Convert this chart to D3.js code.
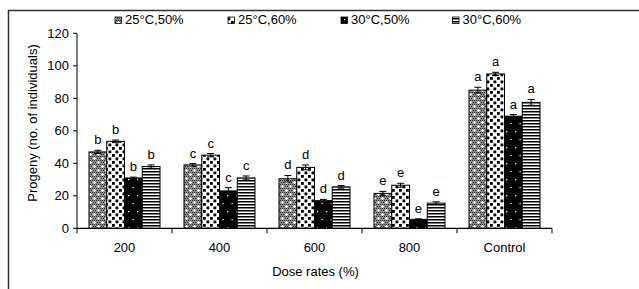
<!DOCTYPE html>
<html><head><meta charset="utf-8">
<script src="https://cdn.jsdelivr.net/npm/d3@7"></script>
<style>body{margin:0;background:#fff}svg{display:block;font-family:"Liberation Sans",Arial,sans-serif}</style>
</head><body>
<script>
const categories = ["200","400","600","800","Control"];
const seriesNames = ["25°C,50%","25°C,60%","30°C,50%","30°C,60%"];
const s25_50 = [47,39,30.5,21.5,85];
const s25_60 = [53.5,45,37.5,26.5,95];
const s30_50 = [31,23,17,5.5,69];
const s30_60 = [38,31,25.5,15.5,77.5];
const e25_50 = [1,0.8,2,1.2,1.8];
const e25_60 = [0.8,1,1.5,1.2,1];
const e30_50 = [0.5,2,0.8,0.3,1];
const e30_60 = [1,1.2,0.8,0.8,1.8];
const letters25_50 = ["b","c","d","e","a"];
const letters25_60 = ["b","c","d","e","a"];
const letters30_50 = ["b","c","d","e","a"];
const letters30_60 = ["b","c","d","e","a"];
const yTicks = [0,20,40,60,80,100,120];

const values = [s25_50,s25_60,s30_50,s30_60];
const errs = [e25_50,e25_60,e30_50,e30_60];
const lets = [letters25_50,letters25_60,letters30_50,letters30_60];

const W=639,H=289, FS=13;
const svg=d3.select("body").append("svg").attr("width",W).attr("height",H);
const defs=svg.append("defs");
// pattern 0: gray crosshatch with white pluses
let p=defs.append("pattern").attr("id","p0").attr("patternUnits","userSpaceOnUse").attr("width",8).attr("height",8);
p.append("rect").attr("width",8).attr("height",8).attr("fill","#8c8c8c");
for(let i=0;i<8;i+=2)for(let j=0;j<8;j+=2){p.append("rect").attr("x",i+((j/2)%2)).attr("y",j).attr("width",1).attr("height",1).attr("fill","#2a2a2a");}
p.append("rect").attr("x",1).attr("y",2).attr("width",3).attr("height",1).attr("fill","#fff");
p.append("rect").attr("x",2).attr("y",1).attr("width",1).attr("height",3).attr("fill","#fff");
p.append("rect").attr("x",5).attr("y",6).attr("width",3).attr("height",1).attr("fill","#fff");
p.append("rect").attr("x",6).attr("y",5).attr("width",1).attr("height",3).attr("fill","#fff");
// pattern 1: white with black squares
p=defs.append("pattern").attr("id","p1").attr("patternUnits","userSpaceOnUse").attr("width",7).attr("height",7);
p.append("rect").attr("width",7).attr("height",7).attr("fill","#fff");
p.append("rect").attr("x",0).attr("y",0).attr("width",2.8).attr("height",2.8).attr("fill","#000");
p.append("rect").attr("x",3.5).attr("y",3.5).attr("width",2.8).attr("height",2.8).attr("fill","#000");
// pattern 2: black with sparse white dots
p=defs.append("pattern").attr("id","p2").attr("patternUnits","userSpaceOnUse").attr("width",9).attr("height",16);
p.append("rect").attr("width",9).attr("height",16).attr("fill","#000");
p.append("rect").attr("x",2).attr("y",3).attr("width",1.2).attr("height",1.2).attr("fill","#fff");
p.append("rect").attr("x",6.5).attr("y",11).attr("width",1.2).attr("height",1.2).attr("fill","#fff");
// pattern 3: horizontal stripes
p=defs.append("pattern").attr("id","p3").attr("patternUnits","userSpaceOnUse").attr("width",4).attr("height",3);
p.append("rect").attr("width",4).attr("height",3).attr("fill","#fff");
p.append("rect").attr("y",0).attr("width",4).attr("height",1.5).attr("fill","#000");

// frame
svg.append("path").attr("d","M8.5,289 V10.5 H639").attr("fill","none").attr("stroke","#333").attr("stroke-width",1.5);

const x0=d3.scaleBand().domain(categories).range([77,552]);
const x1=d3.scaleBand().domain(d3.range(4)).range([12,x0.bandwidth()-12]);
const y=d3.scaleLinear().domain([0,120]).range([228.3,33.3]);

const g=svg.append("g");
categories.forEach((c,ci)=>{
  for(let si=0;si<4;si++){
    const v=values[si][ci], e=errs[si][ci];
    const bx=x0(c)+x1(si), bw=x1.bandwidth();
    g.append("rect").attr("x",bx).attr("y",y(v)).attr("width",bw).attr("height",y(0)-y(v))
      .attr("fill",`url(#p${si})`).attr("stroke","#000").attr("stroke-width",1);
    const cx=bx+bw/2;
    g.append("path").attr("d",`M${cx-3.5},${y(v+e)}H${cx+3.5}M${cx},${y(v+e)}V${y(v-e)}M${cx-3.5},${y(v-e)}H${cx+3.5}`)
      .attr("stroke","#000").attr("stroke-width",1).attr("fill","none");
    g.append("text").attr("x",cx).attr("y",y(v+e)-6).attr("text-anchor","middle")
      .attr("font-size",FS).attr("fill","#000").text(lets[si][ci]);
  }
});

// y axis
const ya=svg.append("g");
ya.append("line").attr("x1",77).attr("x2",77).attr("y1",y(120)).attr("y2",y(0)).attr("stroke","#000");
yTicks.forEach(t=>{
  ya.append("line").attr("x1",73).attr("x2",77).attr("y1",y(t)).attr("y2",y(t)).attr("stroke","#000");
  ya.append("text").attr("x",69).attr("y",y(t)+4.5).attr("text-anchor","end").attr("font-size",FS).text(t);
});
// x axis
const xa=svg.append("g");
xa.append("line").attr("x1",77).attr("x2",552).attr("y1",y(0)).attr("y2",y(0)).attr("stroke","#000").attr("stroke-width",1.2);
categories.forEach((c,i)=>{
  xa.append("line").attr("x1",x0(c)).attr("x2",x0(c)).attr("y1",y(0)).attr("y2",y(0)+5).attr("stroke","#000");
  xa.append("text").attr("x",x0(c)+x0.bandwidth()/2).attr("y",252).attr("text-anchor","middle").attr("font-size",FS).text(c);
});
xa.append("line").attr("x1",552).attr("x2",552).attr("y1",y(0)).attr("y2",y(0)+5).attr("stroke","#000");

svg.append("text").attr("x",315.5).attr("y",276).attr("text-anchor","middle").attr("font-size",FS).text("Dose rates (%)");
svg.append("text").attr("transform","translate(37,123) rotate(-90)").attr("text-anchor","middle").attr("font-size",FS).text("Progeny  (no. of individuals)");

// legend
const legX=[115,228,341,452.5];
seriesNames.forEach((n,i)=>{
  svg.append("rect").attr("x",legX[i]).attr("y",17).attr("width",6.5).attr("height",6.5).attr("fill",`url(#p${i})`).attr("stroke","#000").attr("stroke-width",0.8);
  svg.append("text").attr("x",legX[i]+10).attr("y",24).attr("font-size",FS).text(n);
});
</script>
</body></html>
